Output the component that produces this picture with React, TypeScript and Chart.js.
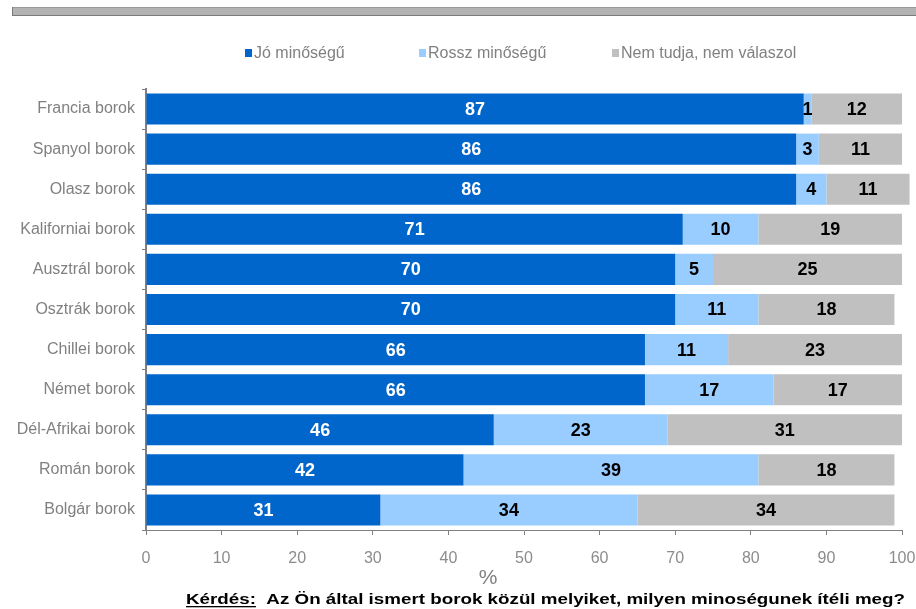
import React, { useEffect, useRef } from "react";
import { Chart, registerables } from "chart.js";

Chart.register(...registerables);

const categories = [
  "Francia borok",
  "Spanyol borok",
  "Olasz borok",
  "Kaliforniai borok",
  "Ausztrál borok",
  "Osztrák borok",
  "Chillei borok",
  "Német borok",
  "Dél-Afrikai borok",
  "Román borok",
  "Bolgár borok",
];
const seriesNames = ["Jó minőségű", "Rossz minőségű", "Nem tudja, nem válaszol"];
const goodValues = [87, 86, 86, 71, 70, 70, 66, 66, 46, 42, 31];
const badValues = [1, 3, 4, 10, 5, 11, 11, 17, 23, 39, 34];
const dkValues = [12, 11, 11, 19, 25, 18, 23, 17, 31, 18, 34];
const xTicks = [0, 10, 20, 30, 40, 50, 60, 70, 80, 90, 100];
const axisTitle = "%";
const questionLabel = "Kérdés:";
const questionText = "Az Ön által ismert borok közül melyiket, milyen minoségunek ítéli meg?";

const colors = ["#0066CC", "#99CCFF", "#C0C0C0"];
const labelColors = ["#FFFFFF", "#000000", "#000000"];
const legendX = [245, 419, 612];
const FONT = "Liberation Sans, Arial, sans-serif";

const decorPlugin = {
  id: "decor",
  beforeDraw(chart: any) {
    const ctx = chart.ctx;
    ctx.save();
    // top band
    ctx.fillStyle = "#B3B3B3";
    ctx.fillRect(12, 7, 904, 9);
    ctx.fillStyle = "#9A9A9A";
    ctx.fillRect(12, 7, 904, 1);
    ctx.fillStyle = "#7A7A7A";
    ctx.fillRect(12, 15, 904, 1);
    ctx.fillRect(12, 7, 1, 9);
    ctx.restore();
  },
  afterDraw(chart: any) {
    const ctx = chart.ctx;
    ctx.save();
    // legend
    ctx.font = `16px ${FONT}`;
    ctx.textBaseline = "middle";
    const box = 7;
    const ly = 53;
    seriesNames.forEach((n, i) => {
      const x = legendX[i];
      ctx.fillStyle = colors[i];
      ctx.fillRect(x, ly - 4, box, 8);
      ctx.fillStyle = "#808080";
      ctx.textAlign = "left";
      ctx.fillText(n, x + box + 2, ly + 1);
    });

    // value labels
    ctx.font = `bold 18px ${FONT}`;
    ctx.textAlign = "center";
    ctx.textBaseline = "middle";
    chart.data.datasets.forEach((ds: any, di: number) => {
      const meta = chart.getDatasetMeta(di);
      meta.data.forEach((bar: any, i: number) => {
        const v = ds.data[i];
        const cx = (bar.x + bar.base) / 2;
        ctx.fillStyle = labelColors[di];
        ctx.fillText(String(v), cx, bar.y + 1);
      });
    });

    // axis title
    ctx.font = `21px ${FONT}`;
    ctx.fillStyle = "#808080";
    ctx.textAlign = "center";
    ctx.textBaseline = "middle";
    ctx.fillText(axisTitle, 488, 578);

    // question
    ctx.font = `bold 15px ${FONT}`;
    ctx.fillStyle = "#000000";
    ctx.textBaseline = "alphabetic";
    ctx.textAlign = "left";
    const sep = "  ";
    const wLabel = ctx.measureText(questionLabel).width;
    const wFull = ctx.measureText(questionLabel + sep + questionText).width;
    const targetLeft = 186;
    const targetRight = 905;
    const sx = (targetRight - targetLeft) / wFull;
    ctx.translate(targetLeft, 604);
    ctx.scale(sx, 1);
    ctx.fillText(questionLabel + sep + questionText, 0, 0);
    ctx.fillRect(0, 2, wLabel, 1.3);
    ctx.restore();
  },
};

export default function App() {
  const ref = useRef<HTMLCanvasElement | null>(null);
  useEffect(() => {
    if (!ref.current) return;
    const chart = new Chart(ref.current, {
      type: "bar",
      data: {
        labels: categories,
        datasets: [goodValues, badValues, dkValues].map((d, i) => ({
          label: seriesNames[i],
          data: d,
          backgroundColor: colors[i],
          borderWidth: 0,
          barPercentage: 1,
          categoryPercentage: 0.775,
          clip: false,
        })),
      },
      options: {
        indexAxis: "y",
        animation: false,
        responsive: false,
        devicePixelRatio: 1,
        layout: { padding: { top: 89, right: 14, bottom: 0, left: 0 } },
        plugins: {
          legend: { display: false },
          tooltip: { enabled: false },
          title: { display: false },
        },
        scales: {
          x: {
            stacked: true,
            min: 0,
            max: 100,
            afterFit: (s: any) => {
              s.height = 79;
              s.paddingLeft = 0;
              s.paddingRight = 0;
            },
            afterBuildTicks: (s: any) => {
              s.ticks = xTicks.map((v) => ({ value: v }));
            },
            grid: {
              drawOnChartArea: false,
              tickLength: 5,
              color: "#808080",
            },
            border: { color: "#808080", width: 1 },
            ticks: {
              color: "#8C8C8C",
              font: { family: FONT, size: 16 },
              padding: 14,
              maxRotation: 0,
            },
          },
          y: {
            stacked: true,
            afterFit: (s: any) => {
              s.width = 146;
              s.paddingTop = 0;
              s.paddingBottom = 0;
            },
            grid: {
              drawOnChartArea: false,
              tickLength: 4,
              color: "#808080",
              offset: true,
            },
            border: { color: "#808080", width: 2 },
            ticks: {
              color: "#808080",
              font: { family: FONT, size: 16 },
              padding: 7,
            },
          },
        },
      },
      plugins: [decorPlugin],
    } as any);
    return () => chart.destroy();
  }, []);
  return (
    <div style={{ position: "fixed", left: 0, top: 0, width: 916, height: 609, background: "#fff" }}>
      <canvas ref={ref} width={916} height={609} />
    </div>
  );
}
